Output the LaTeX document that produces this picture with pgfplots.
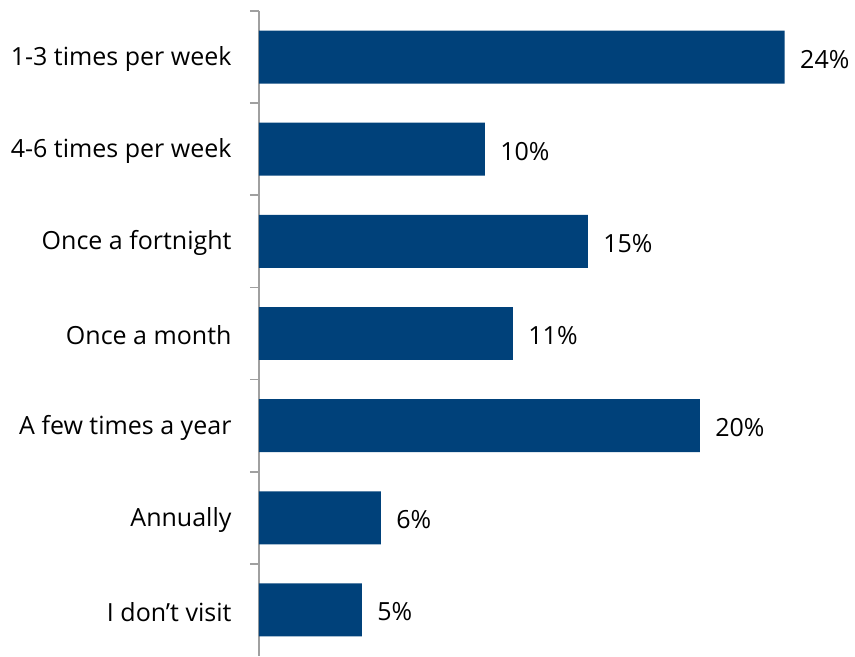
\documentclass[border=0pt]{standalone}
\usepackage{fontspec}
\setmainfont{Open Sans}
\usepackage{pgfplots}
\pgfplotsset{compat=1.18}
\definecolor{barblue}{RGB}{0,65,122}
\definecolor{axgray}{RGB}{160,160,160}
\begin{document}
\begin{tikzpicture}
\begin{axis}[
  scale only axis,
  width=575pt, height=645pt,
  xmin=0, xmax=26,
  ymin=-0.5, ymax=6.5,
  y dir=reverse,
  xbar, bar width=0.575,
  axis x line=none,
  axis y line*=left,
  y axis line style={draw=axgray, line width=1.6pt},
  ytick={0,...,6},
  yticklabels={1-3 times per week,4-6 times per week,Once a fortnight,Once a month,A few times a year,Annually,I don't visit},
  major tick length=0pt,
  yticklabel style={font=\fontsize{25}{30}\selectfont, text=black, xshift=-24pt, yshift=-2pt},
  extra y ticks={-0.5,0.5,1.5,2.5,3.5,4.5,5.5},
  extra y tick labels={},
  extra y tick style={major tick length=9pt, tick style={draw=axgray, line width=1.6pt}, tick align=outside},
  clip=false,
  nodes near coords,
  point meta=explicit symbolic,
  every node near coord/.append style={font=\fontsize{25}{30}\selectfont, text=black, anchor=west, xshift=12pt, yshift=-2pt},
]
\addplot[fill=barblue, draw=none] table[x=v, y=c, meta=l] {
c v l
0 23.77 24\%
1 10.21 10\%
2 14.87 15\%
3 11.48 11\%
4 19.93 20\%
5 5.51 6\%
6 4.65 5\%
};
\coordinate (bl) at (rel axis cs:0,0);
\coordinate (tr) at (rel axis cs:1,1);
\end{axis}
\pgfresetboundingbox
\path ([xshift=-259pt,yshift=-1pt]bl) rectangle ([xshift=21pt,yshift=11pt]tr);
\end{tikzpicture}
\end{document}
